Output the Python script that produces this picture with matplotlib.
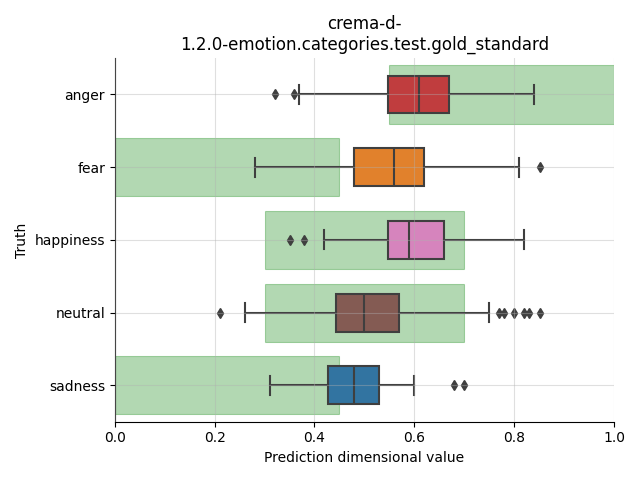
import matplotlib
matplotlib.use("Agg")
import matplotlib.pyplot as plt

emotions = ["anger", "fear", "happiness", "neutral", "sadness"]
colors = ["#c03d3e", "#e1812c", "#d684bd", "#845b53", "#3274a1"]

# box stats
q1 = [0.548, 0.479, 0.548, 0.443, 0.428]
med = [0.610, 0.559, 0.589, 0.499, 0.480]
q3 = [0.670, 0.619, 0.660, 0.569, 0.529]
wlo = [0.369, 0.281, 0.419, 0.261, 0.311]
whi = [0.840, 0.810, 0.820, 0.749, 0.599]
fliers = [
    [0.321, 0.359],
    [0.851],
    [0.351, 0.379],
    [0.211, 0.770, 0.780, 0.800, 0.820, 0.830, 0.851],
    [0.680, 0.700],
]

# expected ranges (green)
range_lo = [0.55, 0.0, 0.3, 0.3, 0.0]
range_hi = [1.0, 0.45, 0.7, 0.7, 0.45]


def main():
    fig, ax = plt.subplots(figsize=(6.4, 4.8), dpi=100)
    pos = list(range(len(emotions)))

    ax.barh(pos, [h - l for l, h in zip(range_lo, range_hi)], left=range_lo,
            height=0.8, color="green", edgecolor="green", linewidth=0.8,
            alpha=0.3, zorder=0.5)

    stats = []
    for i, e in enumerate(emotions):
        stats.append(dict(label=e, q1=q1[i], med=med[i], q3=q3[i],
                          whislo=wlo[i], whishi=whi[i], fliers=fliers[i]))
    gray = "#3f3f3f"
    bp = ax.bxp(stats, positions=pos, vert=False, widths=0.52, patch_artist=True,
                boxprops=dict(edgecolor=gray, linewidth=1.5),
                medianprops=dict(color=gray, linewidth=1.5),
                whiskerprops=dict(color=gray, linewidth=1.5),
                capprops=dict(color=gray, linewidth=1.5),
                flierprops=dict(marker="d", markerfacecolor=gray, markeredgecolor=gray,
                                markersize=5.5),
                capwidths=0.26)
    for patch, c in zip(bp["boxes"], colors):
        patch.set_facecolor(c)
        patch.set_zorder(2)

    ax.set_xlim(0, 1)
    ax.set_ylim(4.5, -0.5)
    ax.set_yticks(pos)
    ax.set_yticklabels(emotions)
    ax.grid(True, color="#b0b0b0", alpha=0.4, linewidth=0.8)
    ax.set_axisbelow(False)
    for sp in ["top", "right"]:
        ax.spines[sp].set_visible(False)
    ax.set_xlabel("Prediction dimensional value")
    ax.set_ylabel("Truth")
    ax.set_title("crema-d-\n1.2.0-emotion.categories.test.gold_standard")
    plt.tight_layout()
    plt.savefig("out.png")


if __name__ == "__main__":
    main()
